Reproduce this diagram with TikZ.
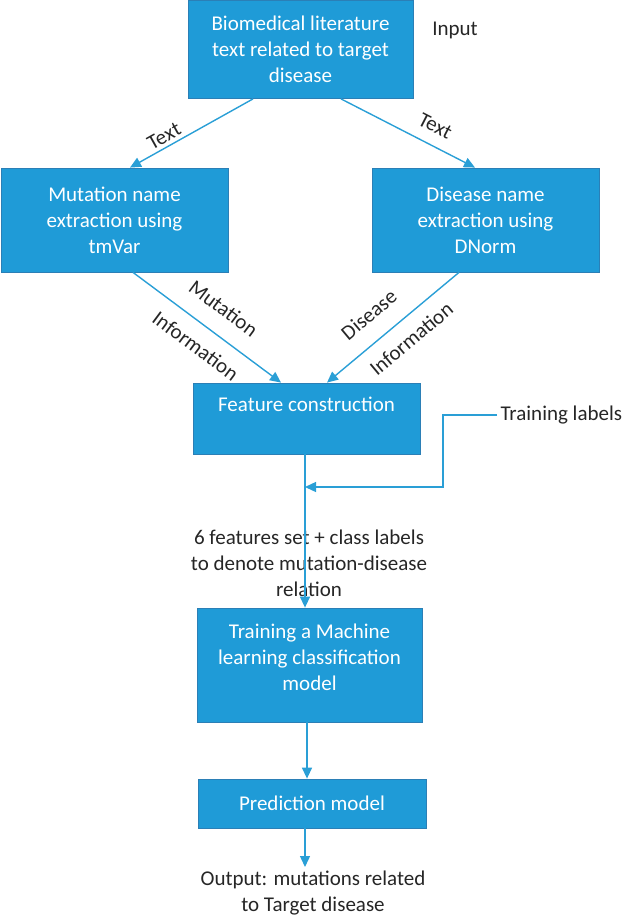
\documentclass[tikz,border=0pt]{standalone}
\usepackage{fontspec}
\setmainfont{Carlito}
\usetikzlibrary{arrows.meta,positioning,calc}
\definecolor{boxblue}{HTML}{1F9BD7}
\definecolor{boxedge}{HTML}{2B7FB6}
\definecolor{flowblue}{HTML}{2A9FD6}
\definecolor{inkgrey}{HTML}{262626}
\tikzset{
  procbox/.style={draw=boxedge, fill=boxblue, text=white, align=center, inner sep=0pt, line width=0.8pt, font=\fontsize{21}{26}\selectfont},
  flow/.style={draw=flowblue, line width=1.4pt, -{Triangle[length=11pt,width=10pt]}},
  plain/.style={text=inkgrey, font=\fontsize{21}{26}\selectfont},
}

\begin{document}
\begin{tikzpicture}[x=1pt,y=-1pt]
			% Frame
			\useasboundingbox (0,0) rectangle (626,915);
			
			% Process boxes
			\node[procbox, minimum width=225pt, minimum height=98pt] (src) at (300.5,49.5) {Biomedical literature\\text related to target\\disease};
			\node[procbox, minimum width=227pt, minimum height=104pt] (mutx) at (114.5,220) {Mutation name\\extraction using\\tmVar};
			\node[procbox, minimum width=227pt, minimum height=104pt] (disx) at (485.5,220) {Disease name\\extraction using\\DNorm};
			\node[procbox, minimum width=227pt, minimum height=71pt, text depth=28pt] (feat) at (306.5,418.5) {Feature construction};
			\node[procbox, minimum width=225pt, minimum height=114pt, text depth=16pt] (train) at (309.5,665) {Training a Machine\\learning classification\\model};
			\node[procbox, minimum width=228pt, minimum height=49pt] (pred) at (312,803.5) {Prediction model};
			
			% Side texts
			\node[plain] (input) at (455,30) {Input};
			\node[plain, anchor=west] (trlab) at (497,415) {Training labels};
			\node[plain, align=center] (featlab) at (309,563) {6 features set + class labels\\to denote mutation-disease\\relation};
			\node[plain, align=center, anchor=north] (outtxt) at (313,867) {Output: mutations related\\to Target disease};
			
			% Axis of the lower arrows
			\coordinate (axis) at (305,0);
			\coordinate (axisb) at (307,0);
			\coordinate (merge) at (305,487);
			
			% Arrows
			\draw[flow] ([xshift=-47.5pt]src.south) -- ([xshift=15.5pt]mutx.north) node[pos=0.68, sloped, above, plain] {Text};
			\draw[flow] ([xshift=40.5pt]src.south) -- ([xshift=-10.5pt]disx.north) node[pos=0.64, sloped, above=8pt, plain] {Text};
			\draw[flow] ([xshift=18.5pt]mutx.south) -- ([xshift=-25.5pt]feat.north)
				node[pos=0.51, sloped, above=14pt, plain] {Mutation}
				node[pos=0.51, sloped, below=10pt, plain] {Information};
			\draw[flow] ([xshift=-26.5pt]disx.south) -- ([xshift=20.5pt]feat.north)
				node[pos=0.56, sloped, above=14pt, plain] {Disease}
				node[pos=0.46, sloped, below=9pt, plain] {Information};
			\draw[flow] (feat.south -| axis) -- (train.north -| axis);
			\draw[flow] (trlab.west) -- ++(-54,0) |- (merge);
			\draw[flow] (train.south -| axisb) -- (pred.north -| axisb);
			\draw[flow] (pred.south -| axis) -- (outtxt.north -| axis);
		\end{tikzpicture}
\end{document}
